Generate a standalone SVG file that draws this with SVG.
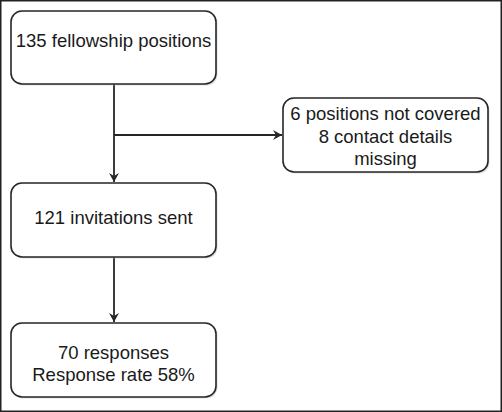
<svg xmlns="http://www.w3.org/2000/svg" width="502" height="412" viewBox="0 0 502 412">
<style>
.box{fill:#fff;stroke:#262626;stroke-width:1.6}
.sh{fill:#bbb;opacity:0.5}
.t{font-family:"Liberation Sans",Arial,sans-serif;font-size:18.5px;fill:#1a1a1a;text-anchor:middle}
.c{stroke:#262626;stroke-width:1.8;fill:none}
</style>
<defs>
<marker id="ah" markerWidth="10" markerHeight="10" refX="9" refY="5" orient="auto" markerUnits="userSpaceOnUse">
<path d="M0,0 L9,5 L0,10 L3,5 Z" fill="#262626"/>
</marker>
</defs>
<rect x="0.75" y="0.75" width="500.5" height="410.5" fill="#fff" stroke="#222" stroke-width="1.5"/>
<g id="connectors">
<line class="c" x1="114" y1="84" x2="114" y2="182" marker-end="url(#ah)"/>
<line class="c" x1="114" y1="135" x2="282" y2="135" marker-end="url(#ah)"/>
<line class="c" x1="114" y1="257" x2="114" y2="322" marker-end="url(#ah)"/>
</g>
<g id="n1">
<rect class="sh" x="12.5" y="12.5" width="205" height="73" rx="11"/>
<rect class="box" x="11" y="11" width="205" height="73" rx="11"/>
<text class="t" x="113.5" y="47">135 fellowship positions</text>
</g>
<g id="n3">
<rect class="sh" x="284.5" y="99.5" width="205" height="74" rx="11"/>
<rect class="box" x="283" y="98" width="205" height="74" rx="11"/>
<text class="t" x="385.5" y="120">6 positions not covered</text>
<text class="t" x="385.5" y="143">8 contact details</text>
<text class="t" x="385.5" y="165">missing</text>
</g>
<g id="n2">
<rect class="sh" x="12.5" y="184.5" width="205" height="74" rx="11"/>
<rect class="box" x="11" y="183" width="205" height="74" rx="11"/>
<text class="t" x="113.5" y="224">121 invitations sent</text>
</g>
<g id="n4">
<rect class="sh" x="12.5" y="324.5" width="205" height="74" rx="11"/>
<rect class="box" x="11" y="323" width="205" height="74" rx="11"/>
<text class="t" x="113.5" y="359">70 responses</text>
<text class="t" x="113.5" y="381">Response rate 58%</text>
</g>
</svg>
